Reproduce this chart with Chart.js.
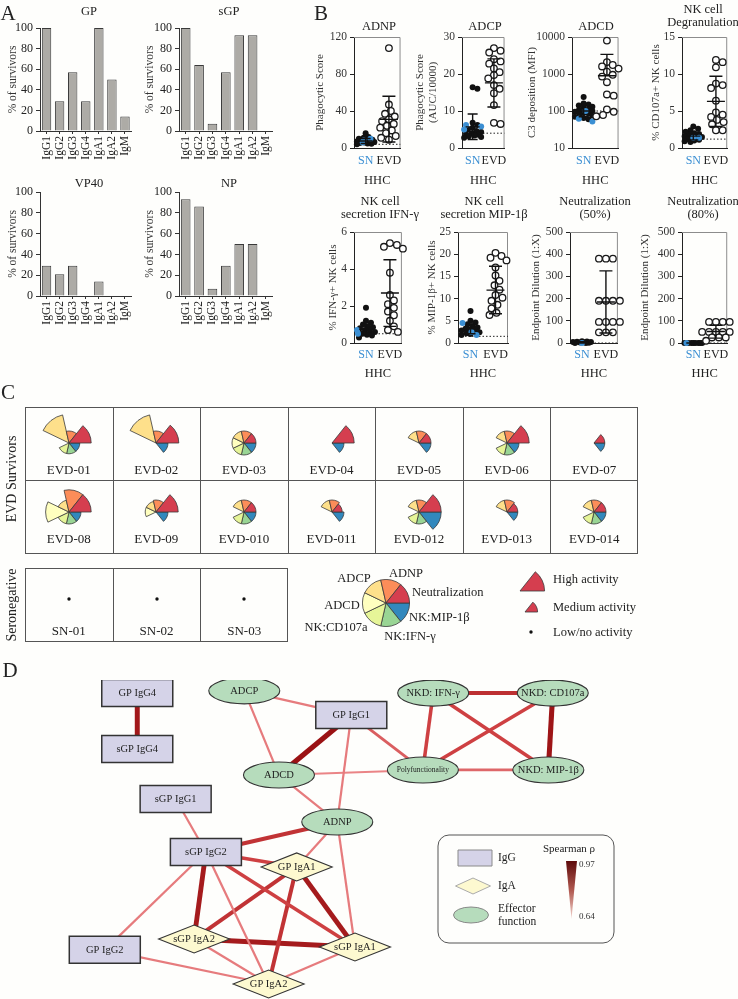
<!DOCTYPE html>
<html>
<head>
<meta charset="utf-8">
<title>EVD survivors - antibody profiles</title>
<script src="https://cdn.jsdelivr.net/npm/chart.js@4.4.1/dist/chart.umd.min.js"></script>
<style>
  body { margin: 0; background: #fefefc; }
  #page { position: relative; width: 738px; height: 999px; overflow: hidden; background: #fefefc;
          font-family: "Liberation Serif", "DejaVu Serif", serif; color: #222; }
  #page canvas { position: absolute; }
  .t { position: absolute; white-space: nowrap; line-height: 1; transform: translate(-50%, -50%); }
  .t.left { transform: translate(0, -50%); }
  .t.rot { transform: translate(-50%, -50%) rotate(-90deg); }
  .box { position: absolute; border: 1px solid #555; box-sizing: border-box; }
  .vl { position: absolute; width: 1px; background: #555; }
  .hl { position: absolute; height: 1px; background: #555; }
</style>
</head>
<body>
<div id="page"></div>
<script>
const FONT = '"Liberation Serif", "DejaVu Serif", serif';

// ---------- A: % of survivors with detectable antibody ----------
const isotypes = ['IgG1', 'IgG2', 'IgG3', 'IgG4', 'IgA1', 'IgA2', 'IgM'];
const gpSurvivors = [100, 29, 57, 29, 100, 50, 14];
const sgpSurvivors = [100, 64, 7, 57, 93, 93, 0];
const vp40Survivors = [29, 21, 29, 0, 14, 0, 0];
const npSurvivors = [93, 86, 7, 29, 50, 50, 0];

// ---------- B: effector functions, SN vs EVD ----------
const groupLabels = ['SN', 'EVD'];
// stats = [mean, mean-SD, mean+SD] for SN then EVD
const adnpSn = [16, 12, 11, 10, 9, 8.5, 8, 7.5, 7, 6.5, 6, 5.5, 5, 4.5, 4];
const adnpSnBlue = [10, 8, 6];
const adnpEvd = [108, 47, 40, 37, 34, 31, 29, 26, 24, 22, 19, 16, 13, 11, 9];
const adnpStats = [[7.5, 4.8, 10.2], [31, 6.5, 56]];
const adnpTicks = [0, 40, 80, 120];

const adcpSn = [16.4, 16, 6.8, 6.2, 5.5, 5, 4.6, 4.3, 4, 3.8, 3.6, 3.4, 3.2, 3, 2.8];
const adcpSnBlue = [6.2, 5.8, 5];
const adcpEvd = [27, 26.3, 25.8, 24, 23.4, 22.8, 21.5, 20.5, 19.7, 18.8, 17, 16, 14.8, 11.6, 6.8, 6.5];
const adcpStats = [[5.7, 2.3, 9.2], [17.6, 11.1, 24.1]];
const adcpTicks = [0, 10, 20, 30];

const adcdSn = [240, 160, 150, 140, 130, 120, 110, 105, 100, 95, 90, 85, 80, 75, 70, 65, 60];
const adcdSnBlue = [100, 62, 52];
const adcdEvd = [8000, 2100, 1750, 1600, 1400, 1150, 950, 850, 600, 280, 260, 110, 95, 78, 72];
const adcdStats = [[100, 70, 140], [900, 900, 3400]];
const adcdTicks = [10, 100, 1000, 10000];

const degSn = [2.9, 2.6, 2.4, 2.2, 2.0, 1.9, 1.8, 1.6, 1.5, 1.4, 1.3, 1.2, 1.1, 1.0, 0.9, 0.8];
const degSnBlue = [1.4, 1.4];
const degEvd = [11.9, 11.6, 10.9, 8.7, 8.5, 8.1, 6.4, 4.8, 4.5, 4.2, 3.8, 3.5, 3.2, 2.4, 2.4];
const degStats = [[1.6, 1.1, 2.1], [6.3, 2.9, 9.7]];
const degTicks = [0, 5, 10, 15];

const ifnSn = [1.9, 1.2, 1.1, 1.0, 0.9, 0.85, 0.8, 0.7, 0.65, 0.6, 0.5, 0.45, 0.4, 0.3];
const ifnSnBlue = [0.7, 0.5];
const ifnEvd = [5.4, 5.3, 5.2, 5.1, 3.8, 2.6, 2.3, 2.1, 1.9, 1.7, 1.5, 1.2, 0.9, 0.7, 0.6];
const ifnStats = [[0.75, 0.4, 1.1], [2.7, 0.9, 4.5]];
const ifnTicks = [0, 2, 4, 6];

const mipSn = [7.2, 5, 4.6, 4.2, 3.8, 3.5, 3.2, 3, 2.8, 2.6, 2.4, 2.2, 2.0, 1.8];
const mipSnBlue = [4.5, 2.5, 1.8];
const mipEvd = [20.3, 19.6, 19.2, 18.6, 17, 15.2, 14, 13, 12, 10.8, 10.2, 9.5, 8.6, 7.8, 6.8, 6.3];
const mipStats = [[3.2, 2.1, 4.3], [11.9, 6.6, 17.3]];
const mipTicks = [0, 5, 10, 15, 20, 25];

const neut50Sn = [8, 7, 6, 5, 4, 3, 2, 1, 0, 0];
const neut50SnBlue = [0];
const neut50Evd = [380, 380, 380, 190, 190, 190, 190, 95, 95, 95, 95, 48, 48, 48];
const neut50Stats = [[3, 0, 6], [185, 45, 325]];
const neut80Sn = [0, 0, 0, 0, 0, 0, 0, 0];
const neut80SnBlue = [0];
const neut80Evd = [95, 95, 95, 95, 50, 50, 50, 50, 50, 25, 25, 25, 10];
const neut80Stats = [[0, 0, 0], [52, 22, 80]];
const neutTicks = [0, 100, 200, 300, 400, 500];

// ---------- C: polyfunctional profiles ----------
const effectors = ['NK:MIP-1β', 'NK:IFN-γ', 'NK:CD107a', 'ADCD', 'ADCP', 'ADNP', 'Neutralization'];
const evdIds = ['EVD-01', 'EVD-02', 'EVD-03', 'EVD-04', 'EVD-05', 'EVD-06', 'EVD-07',
                'EVD-08', 'EVD-09', 'EVD-010', 'EVD-011', 'EVD-012', 'EVD-013', 'EVD-014'];
// activity per effector (order as above): ~1 medium, ~2 high, 0 low/none
const evd01 = [0.9, 0.9, 0.9, 0, 2.4, 1, 1.85];
const evd02 = [1, 0, 0, 0, 2.4, 1, 1.9];
const evd03 = [1, 1, 1, 1, 1, 1, 1];
const evd04 = [1, 0, 0, 0, 0, 0, 1.85];
const evd05 = [1, 0, 0, 0, 1, 1, 1];
const evd06 = [1, 1, 1, 0, 1, 1, 1.85];
const evd07 = [0.9, 0, 0, 0, 0, 0, 0.9];
const evd08 = [1, 1, 1, 1.95, 1, 1.85, 1.85];
const evd09 = [1, 0, 0, 0.9, 0.9, 1, 1.85];
const evd10 = [1, 1, 1, 0, 1, 1, 1];
const evd11 = [1, 0, 0, 0, 1, 1, 0.85];
const evd12 = [1.85, 1, 1, 0, 1, 1, 1.85];
const evd13 = [0.9, 0, 0, 0, 1, 1, 0.9];
const evd14 = [1, 1, 1, 0, 1, 1, 1];
const evdActivity = [evd01, evd02, evd03, evd04, evd05, evd06, evd07,
                     evd08, evd09, evd10, evd11, evd12, evd13, evd14];
const snIds = ['SN-01', 'SN-02', 'SN-03'];
const snActivity = [0, 0, 0, 0, 0, 0, 0];
const legendShares = [1, 1, 1, 1, 1, 1, 1];
const highLevel = [0, 0, 0, 0, 0, 0, 2.05];
const mediumLevel = [0, 0, 0, 0, 0, 0, 1.05];
const lowLevel = [0, 0, 0, 0, 0, 0, 0];

// ---------- D: correlation network ----------
const nodeNames = ['GP IgG4', 'sGP IgG4', 'ADCP', 'GP IgG1', 'ADCD', 'sGP IgG1', 'ADNP', 'sGP IgG2',
                   'GP IgA1', 'sGP IgA2', 'GP IgG2', 'sGP IgA1', 'GP IgA2',
                   'NKD: IFN-γ', 'NKD: CD107a', 'Polyfunctionality', 'NKD: MIP-1β'];
const nodeKind = ['IgG', 'IgG', 'Eff', 'IgG', 'Eff', 'IgG', 'Eff', 'IgG',
                  'IgA', 'IgA', 'IgG', 'IgA', 'IgA', 'Eff', 'Eff', 'Eff', 'Eff'];
// layout coordinates (0-100 each way)
const nodeX = [18.6, 18.6, 33.1, 47.6, 37.8, 23.8, 45.7, 27.9, 40.2, 26.3, 14.2, 48.1, 36.4, 58.7, 74.9, 57.3, 74.3];
const nodeY = [4.1, 21.6, 3.4, 11.0, 29.8, 37.3, 44.5, 53.9, 58.6, 81.2, 84.6, 83.7, 95.3, 4.1, 4.1, 28.2, 28.2];
const edgeFrom = ['GP IgG4', 'ADCP', 'ADCP', 'GP IgG1', 'GP IgG1', 'GP IgG1', 'ADCD', 'ADCD',
                  'sGP IgG1', 'ADNP', 'ADNP', 'ADNP', 'sGP IgG2', 'sGP IgG2', 'sGP IgG2', 'sGP IgG2',
                  'sGP IgG2', 'GP IgA1', 'GP IgA1', 'GP IgA1', 'sGP IgA2', 'sGP IgA2', 'GP IgG2', 'GP IgA2',
                  'NKD: IFN-γ', 'NKD: IFN-γ', 'NKD: IFN-γ', 'NKD: CD107a', 'NKD: CD107a', 'Polyfunctionality'];
const edgeTo = ['sGP IgG4', 'GP IgG1', 'ADCD', 'ADCD', 'ADNP', 'Polyfunctionality', 'Polyfunctionality', 'ADNP',
                'sGP IgG2', 'sGP IgG2', 'GP IgA1', 'sGP IgA1', 'GP IgA1', 'sGP IgA2', 'GP IgG2', 'GP IgA2',
                'sGP IgA1', 'sGP IgA2', 'GP IgA2', 'sGP IgA1', 'sGP IgA1', 'GP IgA2', 'GP IgA2', 'sGP IgA1',
                'NKD: CD107a', 'Polyfunctionality', 'NKD: MIP-1β', 'Polyfunctionality', 'NKD: MIP-1β', 'NKD: MIP-1β'];
const edgeRho = [0.93, 0.68, 0.68, 0.95, 0.68, 0.74, 0.66, 0.68,
                 0.68, 0.84, 0.68, 0.68, 0.8, 0.92, 0.68, 0.68,
                 0.8, 0.84, 0.84, 0.92, 0.92, 0.68, 0.68, 0.68,
                 0.85, 0.8, 0.8, 0.8, 0.94, 0.72];

// ================= drawing =================
Chart.defaults.font.family = FONT;
Chart.defaults.color = '#2a2a2a';
Chart.defaults.animation = false;
Chart.defaults.responsive = false;
Chart.defaults.plugins.legend.display = false;
Chart.defaults.plugins.tooltip.enabled = false;

const page = document.getElementById('page');

function addCanvas(x, y, w, h) {
  const c = document.createElement('canvas');
  c.width = w; c.height = h;
  c.style.left = x + 'px'; c.style.top = y + 'px';
  c.style.width = w + 'px'; c.style.height = h + 'px';
  page.appendChild(c);
  return c;
}

function txt(s, x, y, size, cls) {
  const d = document.createElement('div');
  d.className = 't' + (cls ? ' ' + cls : '');
  d.textContent = s;
  d.style.left = x + 'px'; d.style.top = y + 'px'; d.style.fontSize = size + 'px';
  page.appendChild(d);
  return d;
}

function div(cls, x, y, w, h) {
  const d = document.createElement('div');
  d.className = cls;
  d.style.left = x + 'px'; d.style.top = y + 'px';
  if (w != null) d.style.width = w + 'px';
  if (h != null) d.style.height = h + 'px';
  page.appendChild(d);
}

// ----- A -----
function barPanel(values, b) {
  const cv = addCanvas(b.x, b.y, b.w, b.h);
  new Chart(cv, {
    type: 'bar',
    data: {
      labels: isotypes,
      datasets: [{ data: values, backgroundColor: '#adaba6', borderColor: '#3a3a3a', borderWidth: 1,
                   barPercentage: 0.72, categoryPercentage: 1 }]
    },
    options: {
      layout: { padding: { top: b.top - b.y, right: b.x + b.w - b.right } },
      scales: {
        x: {
          grid: { drawOnChartArea: false, offset: false, tickLength: 3, color: '#333' },
          border: { color: '#333' },
          ticks: { autoSkip: false, minRotation: 90, maxRotation: 90, font: { size: 11.5 }, color: '#222', padding: 2 },
          afterFit: s => { s.height = b.y + b.h - b.bottom; }
        },
        y: {
          min: 0, max: 100,
          ticks: { stepSize: 20, font: { size: 12 }, color: '#222', padding: 3 },
          grid: { drawOnChartArea: false, tickLength: 4, color: '#333' },
          border: { color: '#333' },
          title: { display: true, text: '% of survivors', font: { size: 11.5 }, color: '#333',
                   padding: { top: b.titleX - b.x - 6.9, bottom: 0 } },
          afterFit: s => { s.width = b.left - b.x; }
        }
      }
    }
  });
}

barPanel(gpSurvivors, { x: 0, y: 0, w: 141, h: 170, left: 40, right: 138, top: 28, bottom: 131, titleX: 13 });
barPanel(sgpSurvivors, { x: 141, y: 0, w: 141, h: 170, left: 179, right: 279, top: 28, bottom: 131, titleX: 150 });
barPanel(vp40Survivors, { x: 0, y: 170, w: 141, h: 170, left: 40, right: 138, top: 192, bottom: 296, titleX: 13 });
barPanel(npSurvivors, { x: 141, y: 170, w: 141, h: 170, left: 179, right: 279, top: 192, bottom: 296, titleX: 150 });
txt('A', 8, 13, 21);
txt('GP', 89, 11, 12.5);
txt('sGP', 229, 11, 12.5);
txt('VP40', 89, 183, 12.5);
txt('NP', 229, 183, 12.5);

// ----- B -----
// simple deterministic beeswarm: spreads equal / close values sideways (pixel units)
function swarm(values, center, toPx, pxPerX, minDist, maxOff) {
  const placed = [], out = [];
  values.forEach(v => {
    const py = toPx(v);
    let best = 0, bestScore = -1;
    for (let k = 0; k <= 2 * maxOff; k++) {
      const off = (k % 2 ? 1 : -1) * Math.ceil(k / 2);
      let dmin = Infinity;
      placed.forEach(p => { dmin = Math.min(dmin, Math.hypot(p.ox - off, p.py - py)); });
      if (dmin >= minDist) { best = off; break; }
      if (dmin > bestScore) { bestScore = dmin; best = off; }
    }
    placed.push({ ox: best, py });
    out.push({ x: center + best / pxPerX, y: v });
  });
  return out;
}

function errbars(stats) {
  return {
    id: 'errbars',
    afterDatasetsDraw(chart) {
      const { ctx, scales: { x, y } } = chart;
      ctx.save();
      ctx.strokeStyle = '#111';
      ctx.lineWidth = 1.4;
      stats.forEach((s, i) => {
        const cx = x.getPixelForValue(i + 1);
        const [m, lo, hi] = s.map(v => y.getPixelForValue(v));
        const cap = i === 0 ? 5 : 6.5, mw = i === 0 ? 7 : 9;
        ctx.beginPath();
        ctx.moveTo(cx, lo); ctx.lineTo(cx, hi);
        ctx.moveTo(cx - cap, lo); ctx.lineTo(cx + cap, lo);
        ctx.moveTo(cx - cap, hi); ctx.lineTo(cx + cap, hi);
        ctx.moveTo(cx - mw, m); ctx.lineTo(cx + mw, m);
        ctx.stroke();
      });
      ctx.restore();
    }
  };
}

const framePlugin = {
  id: 'frame',
  beforeDatasetsDraw(chart) {
    const { ctx, chartArea: a } = chart;
    ctx.save();
    ctx.strokeStyle = '#8c8c8c';
    ctx.lineWidth = 1;
    ctx.beginPath();
    ctx.moveTo(a.left, a.top + 0.5);
    ctx.lineTo(a.right - 0.5, a.top + 0.5);
    ctx.lineTo(a.right - 0.5, a.bottom);
    ctx.stroke();
    ctx.restore();
  }
};

const ROWS = [
  { top: 37, bottom: 148, ctop: 26, cbottom: 189, pad: 6 },
  { top: 232, bottom: 343, ctop: 221, cbottom: 382, pad: 5 }
];

function dotPanel(p) {
  const r = ROWS[p.row];
  const cv = addCanvas(p.cx, r.ctop, p.right + 7 - p.cx, r.cbottom - r.ctop);
  const plotH = r.bottom - r.top, pxPerX = (p.right - p.left) / 2;
  const lmin = Math.log10(p.min || 1), lmax = Math.log10(p.max);
  const toPx = p.log ? v => (Math.log10(v) - lmin) / (lmax - lmin) * plotH
                     : v => (v - p.min) / (p.max - p.min) * plotH;
  const snPts = swarm(p.sn.concat(p.blue), 1, toPx, pxPerX, 4.6, 9);
  const evdPts = swarm(p.evd, 2, toPx, pxPerX, 6.6, 14);
  const blue = '#3b8fd3';
  new Chart(cv, {
    type: 'scatter',
    data: {
      datasets: [
        { data: evdPts, pointRadius: 3.3, pointBackgroundColor: '#fff', pointBorderColor: '#1a1a1a', pointBorderWidth: 1.3, clip: false },
        { data: snPts.slice(p.sn.length), pointRadius: 3, pointBackgroundColor: blue, pointBorderColor: blue, pointBorderWidth: 0, clip: false },
        { data: snPts.slice(0, p.sn.length), pointRadius: 3, pointBackgroundColor: '#111', pointBorderColor: '#111', pointBorderWidth: 0, clip: false },
        { data: [{ x: 0.5, y: p.cut }, { x: 2.5, y: p.cut }], showLine: true, borderColor: '#222', borderWidth: 1,
          borderDash: [1.5, 2], pointRadius: 0 }
      ]
    },
    options: {
      layout: { padding: { top: r.top - r.ctop, right: 7 } },
      scales: {
        x: {
          type: 'linear', min: 0.5, max: 2.5,
          afterBuildTicks: s => { s.ticks = [{ value: 1 }, { value: 2 }]; },
          grid: { display: false, drawTicks: false },
          border: { color: '#222' },
          ticks: { padding: r.pad, font: { size: 12 }, color: c => (c.index === 0 ? blue : '#222'),
                   callback: v => groupLabels[v - 1] },
          title: { display: true, text: 'HHC', font: { size: 12.5 }, color: '#222', padding: { top: 0, bottom: 1 } },
          afterFit: s => { s.height = r.cbottom - r.bottom; }
        },
        y: {
          type: p.log ? 'logarithmic' : 'linear', min: p.min, max: p.max,
          afterBuildTicks: s => { s.ticks = p.ticks.map(v => ({ value: v })); },
          grid: { drawOnChartArea: false, tickLength: 4, color: '#222' },
          border: { color: '#222' },
          ticks: { padding: 3, font: { size: 11.5 }, color: '#333', callback: v => String(v) },
          title: { display: true, text: p.ytitle, font: { size: 11 }, color: '#333',
                   padding: { top: p.titleX - p.cx - 6.6, bottom: 0 } },
          afterFit: s => { s.width = p.left - p.cx; }
        }
      }
    },
    plugins: [framePlugin, errbars(p.stats)]
  });
}

dotPanel({ row: 0, cx: 306, left: 354, right: 402, titleX: 320, min: 0, max: 120, ticks: adnpTicks,
  sn: adnpSn, blue: adnpSnBlue, evd: adnpEvd, stats: adnpStats, cut: 4, ytitle: 'Phagocytic Score' });
dotPanel({ row: 0, cx: 405, left: 462, right: 507, titleX: 420, min: 0, max: 30, ticks: adcpTicks,
  sn: adcpSn, blue: adcpSnBlue, evd: adcpEvd, stats: adcpStats, cut: 4, ytitle: ['Phagocytic Score', '(AUC/10000)'] });
dotPanel({ row: 0, cx: 514, left: 572, right: 620, titleX: 532, min: 10, max: 10000, log: true, ticks: adcdTicks,
  sn: adcdSn, blue: adcdSnBlue, evd: adcdEvd, stats: adcdStats, cut: 100, ytitle: 'C3 deposition (MFI)' });
dotPanel({ row: 0, cx: 638, left: 682, right: 729, titleX: 656, min: 0, max: 15, ticks: degTicks,
  sn: degSn, blue: degSnBlue, evd: degEvd, stats: degStats, cut: 1.2, ytitle: '% CD107a+ NK cells' });
dotPanel({ row: 1, cx: 318, left: 354, right: 402, titleX: 333, min: 0, max: 6, ticks: ifnTicks,
  sn: ifnSn, blue: ifnSnBlue, evd: ifnEvd, stats: ifnStats, cut: 0.5, ytitle: '% IFN-γ+ NK cells' });
dotPanel({ row: 1, cx: 416, left: 458, right: 508, titleX: 432, min: 0, max: 25, ticks: mipTicks,
  sn: mipSn, blue: mipSnBlue, evd: mipEvd, stats: mipStats, cut: 1.5, ytitle: '% MIP-1β+ NK cells' });
dotPanel({ row: 1, cx: 520, left: 570, right: 618, titleX: 536, min: 0, max: 500, ticks: neutTicks,
  sn: neut50Sn, blue: neut50SnBlue, evd: neut50Evd, stats: neut50Stats, cut: 0, ytitle: 'Endpoint Dilution (1:X)' });
dotPanel({ row: 1, cx: 629, left: 682, right: 728, titleX: 645, min: 0, max: 500, ticks: neutTicks,
  sn: neut80Sn, blue: neut80SnBlue, evd: neut80Evd, stats: neut80Stats, cut: 0, ytitle: 'Endpoint Dilution (1:X)' });

txt('B', 321, 13, 21);
txt('ADNP', 379, 26, 12.5);
txt('ADCP', 485, 26, 12.5);
txt('ADCD', 596, 26, 12.5);
txt('NK cell', 703, 9, 12.5);
txt('Degranulation', 703, 22, 12.5);
txt('NK cell', 380, 201, 12.5);
txt('secretion IFN-γ', 380, 214, 12.5);
txt('NK cell', 484, 201, 12.5);
txt('secretion MIP-1β', 484, 214, 12.5);
txt('Neutralization', 595, 201, 12.5);
txt('(50%)', 595, 214, 12.5);
txt('Neutralization', 703, 201, 12.5);
txt('(80%)', 703, 214, 12.5);

// ----- C -----
const effectorColors = ['#3288bd', '#99d594', '#e6f598', '#ffffbf', '#fee08b', '#fc8d59', '#d53e4f'];

const lowDot = {
  id: 'lowDot',
  afterDatasetsDraw(chart) {
    const vals = chart.data.datasets[0].data;
    if (vals.some(v => v > 0)) return;
    const s = chart.scales.r, ctx = chart.ctx;
    ctx.save();
    ctx.beginPath();
    ctx.arc(s.xCenter, s.yCenter, 1.7, 0, Math.PI * 2);
    ctx.fillStyle = '#111';
    ctx.fill();
    ctx.restore();
  }
};

function activityPie(values, cx, cy, colors, startDeg) {
  const size = 72;
  const cv = addCanvas(Math.round(cx - size / 2), Math.round(cy - size / 2), size, size);
  new Chart(cv, {
    type: 'polarArea',
    data: { labels: effectors, datasets: [{ data: values, backgroundColor: colors, borderColor: '#3a3a3a',
                                             borderWidth: c => (c.raw > 0 ? 0.8 : 0) }] },
    options: { scales: { r: { display: false, min: 0, max: 3, startAngle: startDeg } } },
    plugins: [lowDot]
  });
}

const gx = 25, gw = 613, colW = gw / 7, rowTop = 407, rowH = 73;
div('box', gx, rowTop, gw, 2 * rowH + 1);
for (let i = 1; i < 7; i++) div('vl', Math.round(gx + i * colW), rowTop, null, 2 * rowH);
div('hl', gx, rowTop + rowH, gw, null);
const pieRowY = [443, 512], labelRowY = [469, 538];
evdIds.forEach((id, i) => {
  const col = i % 7, row = Math.floor(i / 7);
  const cx = gx + (col + 0.5) * colW;
  activityPie(evdActivity[i], cx, pieRowY[row], effectorColors, 90);
  txt(id, cx, labelRowY[row], 13);
});

const snW = 263, snTop = 568, snH = 74;
div('box', gx, snTop, snW, snH);
for (let i = 1; i < 3; i++) div('vl', Math.round(gx + i * snW / 3), snTop, null, snH);
snIds.forEach((id, i) => {
  const cx = gx + (i + 0.5) * snW / 3;
  activityPie(snActivity, cx, 599, effectorColors, 90);
  txt(id, cx, 630, 13);
});

txt('C', 8, 392, 21);
txt('EVD Survivors', 12, 479, 14, 'rot');
txt('Seronegative', 12, 605, 14, 'rot');

// legend pie
const legCv = addCanvas(362, 579, 48, 48);
new Chart(legCv, {
  type: 'pie',
  data: { labels: effectors, datasets: [{ data: legendShares, backgroundColor: effectorColors, borderColor: '#3a3a3a', borderWidth: 0.8 }] },
  options: { rotation: 90 }
});
txt('ADCP', 354, 578, 12.5);
txt('ADNP', 406, 573, 12.5);
txt('Neutralization', 412, 592, 12.5, 'left');
txt('ADCD', 342, 605, 12.5);
txt('NK:MIP-1β', 409, 617, 12.5, 'left');
txt('NK:CD107a', 336, 627, 12.5);
txt('NK:IFN-γ', 410, 636, 12.5);

// activity size key: single neutralization wedge, apex at lower left
activityPie(highLevel, 520, 591, effectorColors, 90);
activityPie(mediumLevel, 525, 612, effectorColors, 90);
activityPie(lowLevel, 531, 632, effectorColors, 90);
txt('High activity', 553, 579, 12.5, 'left');
txt('Medium activity', 553, 607, 12.5, 'left');
txt('Low/no activity', 553, 632, 12.5, 'left');

// ----- D -----
function mix(a, b, t) { return a.map((v, i) => Math.round(v + (b[i] - v) * t)); }
function rhoT(r) { return Math.max(0, Math.min(1, (r - 0.64) / 0.33)); }
function rhoColor(r) {
  const t = rhoT(r);
  const c = t < 0.5 ? mix([238, 142, 144], [205, 62, 64], t / 0.5) : mix([205, 62, 64], [148, 12, 14], (t - 0.5) / 0.5);
  return 'rgb(' + c.join(',') + ')';
}
function rhoWidth(r) { return 1.8 + 3.6 * rhoT(r); }

function drawNode(ctx, kind, x, y, hw, hh, fill, stroke, lw) {
  ctx.beginPath();
  if (kind === 'IgG') ctx.rect(x - hw, y - hh, 2 * hw, 2 * hh);
  else if (kind === 'IgA') { ctx.moveTo(x - hw, y); ctx.lineTo(x, y - hh); ctx.lineTo(x + hw, y); ctx.lineTo(x, y + hh); ctx.closePath(); }
  else ctx.ellipse(x, y, hw, hh, 0, 0, Math.PI * 2);
  ctx.fillStyle = fill;
  ctx.fill();
  ctx.lineWidth = lw;
  ctx.strokeStyle = stroke;
  ctx.stroke();
}

const nodeFill = { IgG: '#d5d3e8', IgA: '#fdf9d0', Eff: '#b6dcbc' };

const netPlugin = {
  id: 'net',
  afterDatasetsDraw(chart) {
    const { ctx, scales: { x, y } } = chart;
    ctx.save();
    ctx.textAlign = 'center';
    ctx.textBaseline = 'middle';
    nodeNames.forEach((name, i) => {
      const px = x.getPixelForValue(nodeX[i]), py = y.getPixelForValue(nodeY[i]);
      const k = nodeKind[i];
      drawNode(ctx, k, px, py, 35.5, k === 'IgG' ? 13.5 : (k === 'IgA' ? 14 : 13), nodeFill[k], '#333', k === 'IgG' ? 1.5 : 1.1);
      ctx.fillStyle = '#1e1e1e';
      ctx.font = (name === 'Polyfunctionality' ? '7.5px ' : '10.5px ') + FONT;
      ctx.fillText(name, px, py + 0.5);
    });

    // legend box
    const bx = 438, by = 155, bw = 176, bh = 108, rr = 11;
    ctx.beginPath();
    ctx.moveTo(bx + rr, by);
    ctx.arcTo(bx + bw, by, bx + bw, by + bh, rr);
    ctx.arcTo(bx + bw, by + bh, bx, by + bh, rr);
    ctx.arcTo(bx, by + bh, bx, by, rr);
    ctx.arcTo(bx, by, bx + bw, by, rr);
    ctx.closePath();
    ctx.lineWidth = 1;
    ctx.strokeStyle = '#555';
    ctx.stroke();

    drawNode(ctx, 'IgG', 475, 178, 17, 8, nodeFill.IgG, '#8a8a8a', 1);
    drawNode(ctx, 'IgA', 473, 206, 17.5, 8, nodeFill.IgA, '#aaa', 1);
    drawNode(ctx, 'Eff', 471, 235, 17.5, 8, nodeFill.Eff, '#888', 1);
    ctx.fillStyle = '#222';
    ctx.textAlign = 'left';
    ctx.font = '11.5px ' + FONT;
    ctx.fillText('IgG', 498, 178);
    ctx.fillText('IgA', 498, 206);
    ctx.fillText('Effector', 498, 229);
    ctx.fillText('function', 498, 242);
    ctx.textAlign = 'center';
    ctx.font = '11px ' + FONT;
    ctx.fillText('Spearman ρ', 569, 169);

    const g = ctx.createLinearGradient(0, 181, 0, 239);
    g.addColorStop(0, '#5e0b0b');
    g.addColorStop(0.5, '#b0584f');
    g.addColorStop(1, '#f3d6cf');
    ctx.beginPath();
    ctx.moveTo(566, 181);
    ctx.lineTo(577, 181);
    ctx.lineTo(571.5, 239);
    ctx.closePath();
    ctx.fillStyle = g;
    ctx.fill();
    ctx.fillStyle = '#333';
    ctx.textAlign = 'left';
    ctx.font = '9px ' + FONT;
    ctx.fillText('0.97', 579, 185);
    ctx.fillText('0.64', 579, 237);
    ctx.restore();
  }
};

const edgeSets = edgeFrom.map((a, k) => {
  const i = nodeNames.indexOf(a), j = nodeNames.indexOf(edgeTo[k]);
  return {
    data: [{ x: nodeX[i], y: nodeY[i] }, { x: nodeX[j], y: nodeY[j] }],
    showLine: true, pointRadius: 0, clip: false,
    borderColor: rhoColor(edgeRho[k]), borderWidth: rhoWidth(edgeRho[k])
  };
});

const netCv = addCanvas(0, 680, 738, 319);
new Chart(netCv, {
  type: 'scatter',
  data: { datasets: edgeSets },
  options: {
    layout: { padding: 0 },
    scales: {
      x: { type: 'linear', min: 0, max: 100, display: false },
      y: { type: 'linear', min: 0, max: 100, reverse: true, display: false }
    }
  },
  plugins: [netPlugin]
});
txt('D', 10, 670, 21);
</script>
</body>
</html>
